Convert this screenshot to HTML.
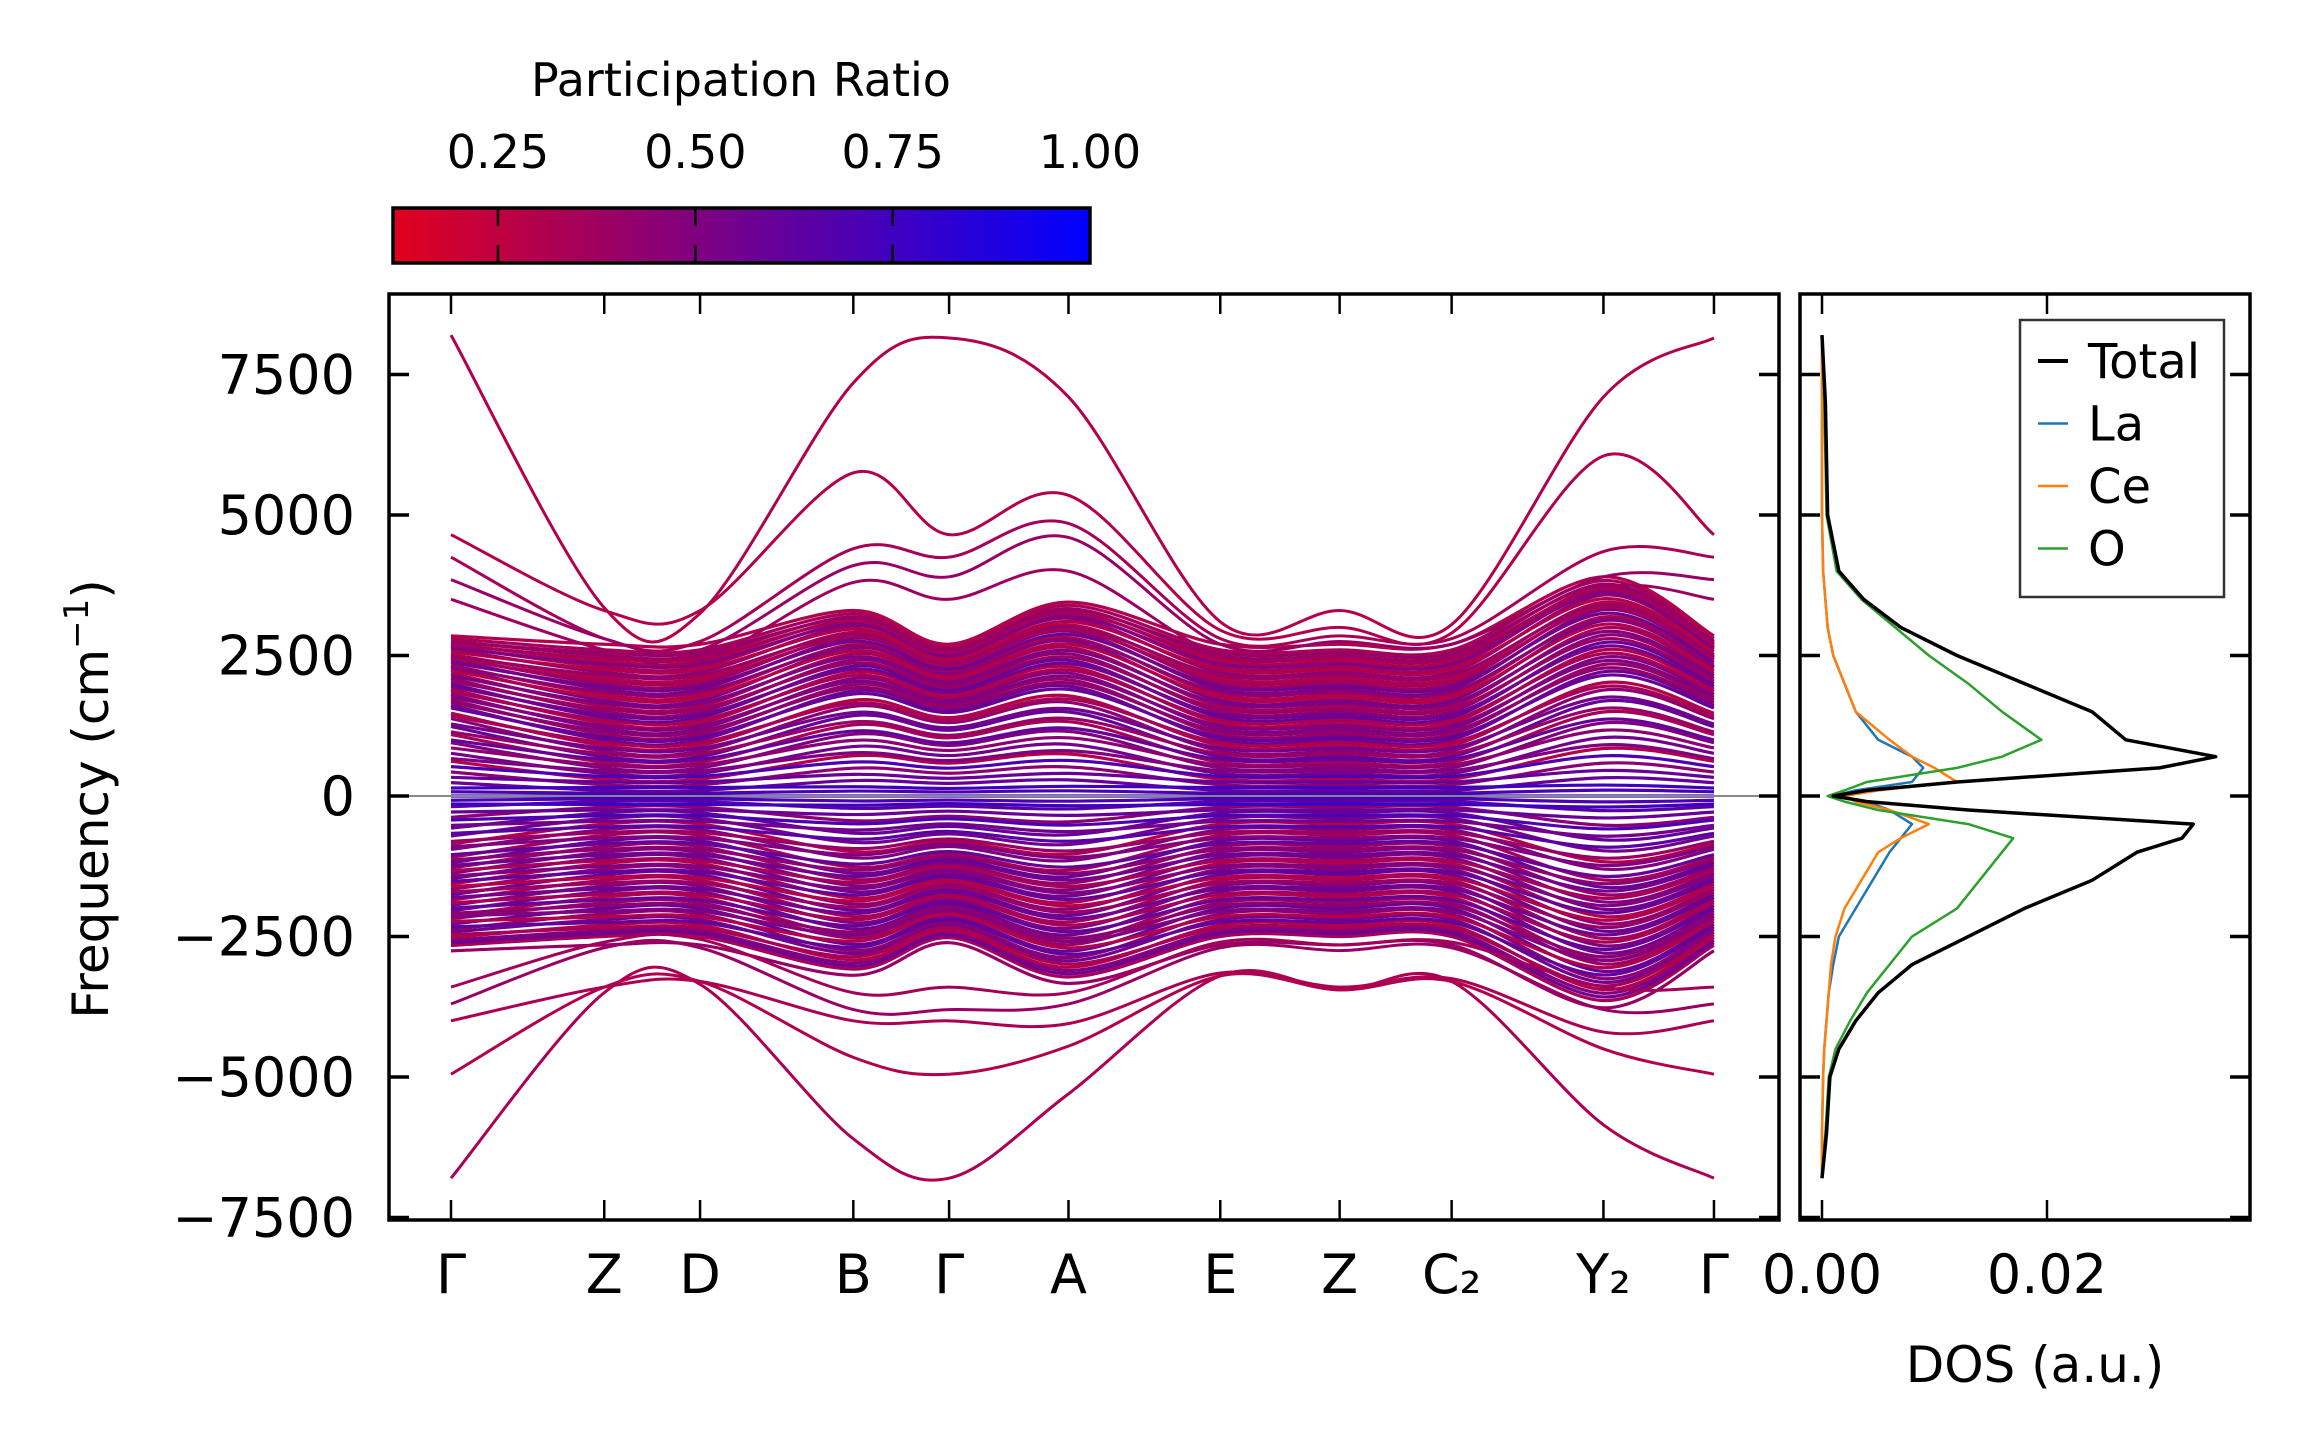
<!DOCTYPE html>
<html><head><meta charset="utf-8">
<style>
html,body{margin:0;padding:0;background:#fff;}
svg{display:block;font-family:"DejaVu Sans","Liberation Sans",sans-serif;}
</style></head>
<body>
<svg id="chart" width="2308" height="1455" viewBox="0 0 2308 1455" xmlns="http://www.w3.org/2000/svg">
<defs>
<linearGradient id="cbgrad" x1="0" x2="1" y1="0" y2="0">
<stop offset="0" stop-color="rgb(225,0,30)"/>
<stop offset="1" stop-color="rgb(0,0,255)"/>
</linearGradient>
<clipPath id="mainclip"><rect x="389" y="294" width="1390" height="926"/></clipPath>
<clipPath id="dosclip"><rect x="1800" y="294" width="450" height="926"/></clipPath>
</defs>
<g id="colorbar">
<text x="741" y="96" font-size="46" text-anchor="middle">Participation Ratio</text>
<rect x="393" y="208" width="697" height="55" fill="url(#cbgrad)" stroke="#000" stroke-width="3.5"/>
</g>
<g id="bands" clip-path="url(#mainclip)"></g>
<g id="dos" clip-path="url(#dosclip)"></g>
<g id="axes"></g>
<text transform="translate(108,799) rotate(-90)" font-size="50" text-anchor="middle">Frequency (cm<tspan baseline-shift="super" font-size="34">−1</tspan>)</text>
<text x="2035" y="1382" font-size="50" text-anchor="middle">DOS (a.u.)</text>
<g id="legend">
<rect x="2020" y="320" width="204" height="277" fill="#fff" stroke="#333" stroke-width="2.5"/>
</g>
</svg>
<script>
// ---- data ----
const kLabels = ["Γ","Z","D","B","Γ","A","E","Z","C₂","Y₂","Γ"];
const kDist = [0,104,169,273,338,419,522,603,679,782,857];
const kKind = ["d","f","f","d","d","d","f","f","f","d","d"];
const domeSpread = [0.95,1,1,1.1,0.9,1.15,1,1,1,1.3,0.95];
const outerBands = [
 [8200,3350,3250,7350,8150,7100,3100,3300,3050,7100,8150],
 [4650,3300,3300,5750,4650,5350,2950,3000,2900,6050,4650],
 [4250,2800,2750,4400,4250,4850,2800,2850,2800,4350,4250],
 [3850,2800,2600,4100,3900,4600,2700,2750,2700,3900,3850],
 [3500,2600,2400,3800,3500,4000,2500,2500,2450,3700,3500],
 [-6800,-3500,-3350,-6100,-6800,-5300,-3200,-3450,-3300,-5850,-6800],
 [-4950,-3400,-3300,-4650,-4950,-4450,-3200,-3450,-3300,-4500,-4950],
 [-4000,-3400,-3300,-4000,-4000,-4050,-3150,-3400,-3250,-4200,-4000],
 [-3700,-2700,-2700,-3800,-3800,-3700,-2700,-2750,-2700,-3800,-3700],
 [-3400,-2600,-2550,-3500,-3400,-3500,-2600,-2650,-2600,-3400,-3400]
];
const outerPR = [0.3,0.3,0.35,0.4,0.38,0.32,0.3,0.33,0.4,0.36];
const flatVals = [-2500,-2400,-2300,-2200,-2100,-2000,-1900,-1800,-1700,-1600,-1500,-1400,-1300,-1200,-1100,-1000,-900,-800,-700,-600,-500,-400,-300,-200,-100,-50,50,100,200,300,400,500,600,700,800,900,1000,1100,1200,1300,1400,1500,1600,1700,1800,1900,2000,2100,2200,2300,2400,2500,2600];
const domeVals = [-2800,-2700,-2650,-2550,-2500,-2400,-2300,-2250,-2150,-2050,-1950,-1850,-1750,-1650,-1550,-1450,-1350,-1250,-1150,-1000,-900,-750,-600,-400,-200,-80,80,250,450,650,800,1000,1150,1300,1450,1550,1700,1800,1900,2000,2100,2200,2300,2400,2450,2550,2600,2650,2750,2800,2850,2900,2950];
const densePR = [0.35,0.5,0.3,0.55,0.45,0.6,0.4,0.3,0.55,0.5,0.35,0.6,0.45,0.3,0.55,0.5,0.4,0.6,0.35,0.5,0.3,0.55,0.6,0.45,0.65,0.7,0.7,0.6,0.45,0.3,0.55,0.5,0.35,0.6,0.45,0.3,0.55,0.4,0.5,0.3,0.6,0.45,0.35,0.55,0.3,0.5,0.4,0.3,0.45,0.35,0.3,0.4,0.35];
const flatVals2 = [-2650,-2450,-2350,-2250,-2150,-2050,-1950,-1850,-1750,-1650,-1550,-1450,-1350,-1250,-1150,-1050,-950,-850,-750,-650,-550,-450,-350,-250,-150,0,150,250,350,450,550,650,750,850,950,1050,1150,1250,1350,1450,1550,1650,1750,1850,1950,2050,2150,2250,2350,2450,2550,2700];
const domeVals2 = [-2900,-2750,-2600,-2450,-2350,-2250,-2200,-2100,-2000,-1900,-1800,-1700,-1600,-1500,-1400,-1300,-1200,-1100,-950,-850,-700,-550,-450,-300,-150,0,150,350,550,700,900,1050,1200,1350,1500,1650,1750,1850,1950,2050,2150,2250,2350,2420,2500,2580,2620,2700,2780,2830,2880,3000];
const densePR2 = [0.4,0.55,0.35,0.6,0.3,0.5,0.45,0.6,0.35,0.55,0.4,0.3,0.6,0.5,0.35,0.55,0.45,0.6,0.5,0.4,0.65,0.55,0.7,0.6,0.75,0.8,0.75,0.6,0.7,0.5,0.45,0.6,0.4,0.55,0.35,0.6,0.45,0.5,0.35,0.55,0.4,0.5,0.3,0.45,0.55,0.35,0.4,0.3,0.5,0.35,0.4,0.3];
const yTicks = [-7500,-5000,-2500,0,2500,5000,7500];
const yTickLabels = ["−7500","−5000","−2500","0","2500","5000","7500"];
const dosFreq = [-6800,-6000,-5000,-4500,-4000,-3500,-3000,-2500,-2000,-1500,-1000,-750,-500,-250,-100,0,100,250,500,700,1000,1500,2000,2500,3000,3500,4000,5000,6000,7000,8200];
const dosTotal = [0,0.0004,0.0007,0.0015,0.003,0.005,0.008,0.013,0.018,0.024,0.028,0.032,0.033,0.013,0.004,0.001,0.004,0.012,0.030,0.035,0.027,0.024,0.018,0.012,0.007,0.0037,0.0015,0.0005,0.0004,0.0003,0];
const dosO = [0,0.0003,0.0006,0.0012,0.0025,0.004,0.006,0.008,0.012,0.014,0.016,0.017,0.013,0.005,0.002,0.0005,0.002,0.004,0.012,0.016,0.0195,0.016,0.013,0.0095,0.0065,0.0035,0.0013,0.0004,0.0003,0.0002,0];
const dosLa = [0,0,0.0001,0.0002,0.0004,0.0006,0.001,0.0015,0.003,0.0045,0.006,0.007,0.008,0.006,0.004,0.001,0.003,0.008,0.009,0.008,0.005,0.003,0.002,0.001,0.0005,0.0003,0.0001,0,0,0,0];
const dosCe = [0,0,0.0001,0.0002,0.0004,0.0006,0.0008,0.0012,0.002,0.0035,0.005,0.007,0.0095,0.006,0.003,0.002,0.005,0.012,0.010,0.008,0.006,0.003,0.002,0.001,0.0005,0.0003,0.0001,0,0,0,0];
const dosTicks = [0,0.02];
const dosTickLabels = ["0.00","0.02"];
const cbTicks = [0.25,0.5,0.75,1.0];
const cbTickLabels = ["0.25","0.50","0.75","1.00"];
const legendNames = ["Total","La","Ce","O"];

// ---- scales ----
const NS="http://www.w3.org/2000/svg";
const MX0=389,MX1=1779,PY0=294,PY1=1220,DX0=1800,DX1=2250;
const kX = k => 451 + k*1.4737;
const fY = f => PY1 - (f - (-7544))/(8932-(-7544))*(PY1-PY0);
const dX = v => 1822 + v/0.02*225;
const cbX = v => 393 + (v-0.117)/(1-0.117)*697;
function prColor(p){return `rgb(${Math.round((1-p)*255)},0,${Math.round(p*255)})`;}
function el(tag,attrs,parent){const e=document.createElementNS(NS,tag);for(const a in attrs)e.setAttribute(a,attrs[a]);parent.appendChild(e);return e;}
function smoothPath(pts){
  let d=`M${pts[0][0]},${pts[0][1]}`;
  for(let i=0;i<pts.length-1;i++){
    const p0=pts[i-1]||pts[i],p1=pts[i],p2=pts[i+1],p3=pts[i+2]||p2;
    const c1=[p1[0]+(p2[0]-p0[0])/6,p1[1]+(p2[1]-p0[1])/6];
    const c2=[p2[0]-(p3[0]-p1[0])/6,p2[1]-(p3[1]-p1[1])/6];
    d+=` C${c1[0]},${c1[1]} ${c2[0]},${c2[1]} ${p2[0]},${p2[1]}`;
  }
  return d;
}
const bandsG=document.getElementById('bands');
function drawDense(fl,dm,pr){
  fl.forEach((fv,i)=>{
    const pts=kDist.map((k,j)=>[kX(k), fY(kKind[j]==="d"? dm[i]*domeSpread[j] : fv)]);
    const p=el('path',{d:smoothPath(pts),fill:'none',stroke:prColor(pr[i]),'stroke-width':3.2},bandsG);
    
    
  });
}
drawDense(flatVals,domeVals,densePR);
drawDense(flatVals2,domeVals2,densePR2);
outerBands.forEach((b,i)=>{
  const pts=b.map((v,j)=>[kX(kDist[j]),fY(v)]);
  const p=el('path',{d:smoothPath(pts),fill:'none',stroke:prColor(outerPR[i]),'stroke-width':3},bandsG);
  
  
});
const zl=el('line',{x1:MX0,x2:MX1,y1:fY(0),y2:fY(0),stroke:'#888','stroke-width':2},bandsG);



// DOS
const dosG=document.getElementById('dos');
const dosSeries=[[dosTotal,'#000',3.5],[dosLa,'#1f77b4',2.5],[dosCe,'#ff7f0e',2.5],[dosO,'#2ca02c',2.5]];
[dosSeries[1],dosSeries[2],dosSeries[3],dosSeries[0]].forEach(s=>{
  const d=dosFreq.map((f,i)=>(i?'L':'M')+dX(s[0][i])+','+fY(f)).join(' ');
  const p=el('path',{d:d,fill:'none',stroke:s[1],'stroke-width':s[2],'stroke-linejoin':'round'},dosG);
  
  
});

// axes
const ax=document.getElementById('axes');
el('rect',{x:MX0,y:PY0,width:MX1-MX0,height:PY1-PY0,fill:'none',stroke:'#000','stroke-width':3.5},ax);
el('rect',{x:DX0,y:PY0,width:DX1-DX0,height:PY1-PY0,fill:'none',stroke:'#000','stroke-width':3.5},ax);
const TL=20;
kDist.forEach((k,i)=>{
  const x=kX(k);
  el('line',{x1:x,x2:x,y1:PY1,y2:PY1-TL,stroke:'#000','stroke-width':2.5},ax);
  el('line',{x1:x,x2:x,y1:PY0,y2:PY0+TL,stroke:'#000','stroke-width':2.5},ax);
  const t=el('text',{x:x,y:1293,'font-size':54,'text-anchor':'middle'},ax);
  t.textContent=kLabels[i];
  
  
});
yTicks.forEach((v,i)=>{
  const y=fY(v);
  [[MX0,MX0+TL],[MX1,MX1-TL],[DX0,DX0+TL],[DX1,DX1-TL]].forEach(s=>el('line',{x1:s[0],x2:s[1],y1:y,y2:y,stroke:'#000','stroke-width':3.5},ax));
  const t=el('text',{x:355,y:y+19,'font-size':54,'text-anchor':'end'},ax);
  t.textContent=yTickLabels[i];
  
  
});
dosTicks.forEach((v,i)=>{
  const x=dX(v);
  el('line',{x1:x,x2:x,y1:PY1,y2:PY1-TL,stroke:'#000','stroke-width':2.5},ax);
  el('line',{x1:x,x2:x,y1:PY0,y2:PY0+TL,stroke:'#000','stroke-width':2.5},ax);
  const t=el('text',{x:x,y:1293,'font-size':54,'text-anchor':'middle'},ax);
  t.textContent=dosTickLabels[i];
  
  
});
// colorbar ticks
const cb=document.getElementById('colorbar');
cbTicks.forEach((v,i)=>{
  const x=cbX(v);
  if(v<1){
    el('line',{x1:x,x2:x,y1:208,y2:226,stroke:'#000','stroke-width':2.5},cb);
    el('line',{x1:x,x2:x,y1:245,y2:263,stroke:'#000','stroke-width':2.5},cb);
  }
  const t=el('text',{x:x,y:168,'font-size':46,'text-anchor':'middle'},cb);
  t.textContent=cbTickLabels[i];
  
  
});
// legend
const lg=document.getElementById('legend');
legendNames.forEach((n,i)=>{
  const y=361+i*62.5;
  el('line',{x1:2038,x2:2068,y1:y,y2:y,stroke:dosSeries[i][1],'stroke-width':i?2.5:4},lg);
  const t=el('text',{x:2088,y:y+17,'font-size':48},lg);
  t.textContent=n;
  
  
});
</script>
</body></html>
